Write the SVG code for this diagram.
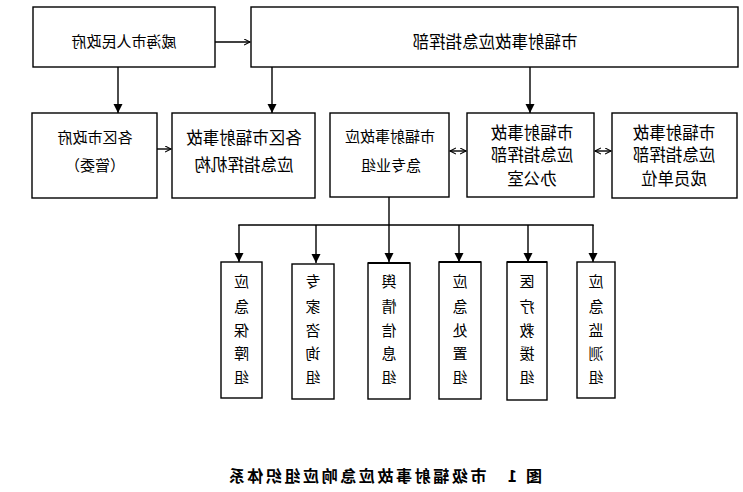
<svg xmlns="http://www.w3.org/2000/svg" width="743" height="492" viewBox="0 0 743 492">
<style>
.box{fill:#fff;stroke:#000;stroke-width:1.4}
.t{font-family:"Noto Sans CJK SC","Noto Sans CJK JP",sans-serif;font-size:15px;fill:#000;text-anchor:middle}
.l{font-size:16.5px}
.v{font-family:"Noto Sans CJK SC","Noto Sans CJK JP",sans-serif;font-size:15px;fill:#000;text-anchor:middle}
.cap{font-family:"Noto Sans CJK SC","Noto Sans CJK JP",sans-serif;font-size:16px;font-weight:bold;fill:#000;text-anchor:middle;letter-spacing:2.6px}
.ln{stroke:#000;stroke-width:1.4;fill:none}
</style>
<defs>
<marker id="fa" markerUnits="userSpaceOnUse" markerWidth="10" markerHeight="10" refX="9" refY="5" orient="auto"><path d="M0,0.5 L9,5 L0,9.5 z" fill="#000"/></marker>
<marker id="oa" markerUnits="userSpaceOnUse" markerWidth="8" markerHeight="8" refX="6" refY="3.5" orient="auto-start-reverse"><path d="M0,0.5 L6,3.5 L0,6.5" fill="none" stroke="#000" stroke-width="1.1"/></marker>
</defs>
<rect width="743" height="492" fill="#fff"/>
<g id="connectors">
<line class="ln" x1="215" y1="42" x2="250" y2="42" marker-end="url(#oa)"/>
<line class="ln" x1="118" y1="67" x2="118" y2="113" marker-end="url(#fa)"/>
<line class="ln" x1="272" y1="67" x2="272" y2="113" marker-end="url(#fa)"/>
<line class="ln" x1="530" y1="67" x2="530" y2="113" marker-end="url(#fa)"/>
<line class="ln" x1="157" y1="149" x2="171" y2="149" marker-end="url(#oa)"/>
<line class="ln" x1="450" y1="151" x2="466" y2="151" marker-start="url(#oa)" marker-end="url(#oa)"/>
<line class="ln" x1="595" y1="151" x2="611" y2="151" marker-start="url(#oa)" marker-end="url(#oa)"/>
<line class="ln" x1="389" y1="197" x2="389" y2="262" marker-end="url(#fa)"/>
<line class="ln" x1="238.3" y1="225" x2="593.7" y2="225"/>
<line class="ln" x1="239" y1="225" x2="239" y2="262" marker-end="url(#fa)"/>
<line class="ln" x1="316" y1="225" x2="316" y2="263" marker-end="url(#fa)"/>
<line class="ln" x1="459" y1="225" x2="459" y2="262" marker-end="url(#fa)"/>
<line class="ln" x1="528" y1="225" x2="528" y2="262" marker-end="url(#fa)"/>
<line class="ln" x1="593" y1="225" x2="593" y2="262" marker-end="url(#fa)"/>
</g>
<g id="n1"><rect class="box" x="33" y="7" width="182" height="60"/>
<text class="t" transform="matrix(-1 0 0 1 124 0)" y="47">威海市人民政府</text></g>
<g id="n2"><rect class="box" x="251" y="7" width="487" height="60"/>
<text class="t l" transform="matrix(-1 0 0 1 495 0)" y="48">市辐射事故应急指挥部</text></g>
<g id="n3"><rect class="box" x="32" y="113" width="125" height="85"/>
<text class="t" transform="matrix(-1 0 0 1 95 0)" y="143">各区市政府</text>
<text class="t" transform="matrix(-1 0 0 1 95 0)" y="171">（管委）</text></g>
<g id="n4"><rect class="box" x="172" y="113" width="143" height="85"/>
<text class="t l" transform="matrix(-1 0 0 1 244 0)" y="144">各区市辐射事故</text>
<text class="t l" transform="matrix(-1 0 0 1 244 0)" y="171">应急指挥机构</text></g>
<g id="n5"><rect class="box" x="330" y="113" width="119" height="84"/>
<text class="t" transform="matrix(-1 0 0 1 390 0)" y="142">市辐射事故应</text>
<text class="t" transform="matrix(-1 0 0 1 391 0)" y="171">急专业组</text></g>
<g id="n6"><rect class="box" x="467" y="113" width="127" height="84"/>
<text class="t l" transform="matrix(-1 0 0 1 532 0)" y="139">市辐射事故</text>
<text class="t l" transform="matrix(-1 0 0 1 532 0)" y="161">应急指挥部</text>
<text class="t l" transform="matrix(-1 0 0 1 532 0)" y="185">办公室</text></g>
<g id="n7"><rect class="box" x="612" y="113" width="125" height="85"/>
<text class="t l" transform="matrix(-1 0 0 1 674 0)" y="139">市辐射事故</text>
<text class="t l" transform="matrix(-1 0 0 1 674 0)" y="161">应急指挥部</text>
<text class="t l" transform="matrix(-1 0 0 1 674 0)" y="185">成员单位</text></g>
<g id="g1"><rect class="box" x="221" y="262" width="41" height="136"/>
<text class="v" transform="matrix(-1 0 0 1 241.5 0)"><tspan x="0" y="287">应</tspan><tspan x="0" y="312">急</tspan><tspan x="0" y="336">保</tspan><tspan x="0" y="359">障</tspan><tspan x="0" y="383">组</tspan></text></g>
<g id="g2"><rect class="box" x="292" y="264" width="42" height="135"/>
<text class="v" transform="matrix(-1 0 0 1 313 0)"><tspan x="0" y="287">专</tspan><tspan x="0" y="312">家</tspan><tspan x="0" y="336">咨</tspan><tspan x="0" y="359">询</tspan><tspan x="0" y="383">组</tspan></text></g>
<g id="g3"><rect class="box" x="368" y="263" width="42" height="136"/>
<line x1="368" y1="263" x2="410" y2="263" stroke="#000" stroke-width="2.2"/>
<text class="v" transform="matrix(-1 0 0 1 389 0)"><tspan x="0" y="287">舆</tspan><tspan x="0" y="312">情</tspan><tspan x="0" y="336">信</tspan><tspan x="0" y="359">息</tspan><tspan x="0" y="383">组</tspan></text></g>
<g id="g4"><rect class="box" x="439" y="262" width="42" height="137"/>
<line x1="439" y1="262" x2="481" y2="262" stroke="#000" stroke-width="2.2"/>
<text class="v" transform="matrix(-1 0 0 1 460 0)"><tspan x="0" y="287">应</tspan><tspan x="0" y="312">急</tspan><tspan x="0" y="336">处</tspan><tspan x="0" y="359">置</tspan><tspan x="0" y="383">组</tspan></text></g>
<g id="g5"><rect class="box" x="507" y="262" width="40" height="138"/>
<line x1="507" y1="262" x2="547" y2="262" stroke="#000" stroke-width="2.2"/>
<text class="v" transform="matrix(-1 0 0 1 527 0)"><tspan x="0" y="287">医</tspan><tspan x="0" y="312">疗</tspan><tspan x="0" y="336">救</tspan><tspan x="0" y="359">援</tspan><tspan x="0" y="383">组</tspan></text></g>
<g id="g6"><rect class="box" x="577" y="262" width="38" height="136"/>
<text class="v" transform="matrix(-1 0 0 1 596 0)"><tspan x="0" y="287">应</tspan><tspan x="0" y="312">急</tspan><tspan x="0" y="336">监</tspan><tspan x="0" y="359">测</tspan><tspan x="0" y="383">组</tspan></text></g>
<g id="caption">
<text class="cap" transform="matrix(-1 0 0 1 384 0)" y="482">图 1　市级辐射事故应急响应组织体系</text>
</g>
</svg>
